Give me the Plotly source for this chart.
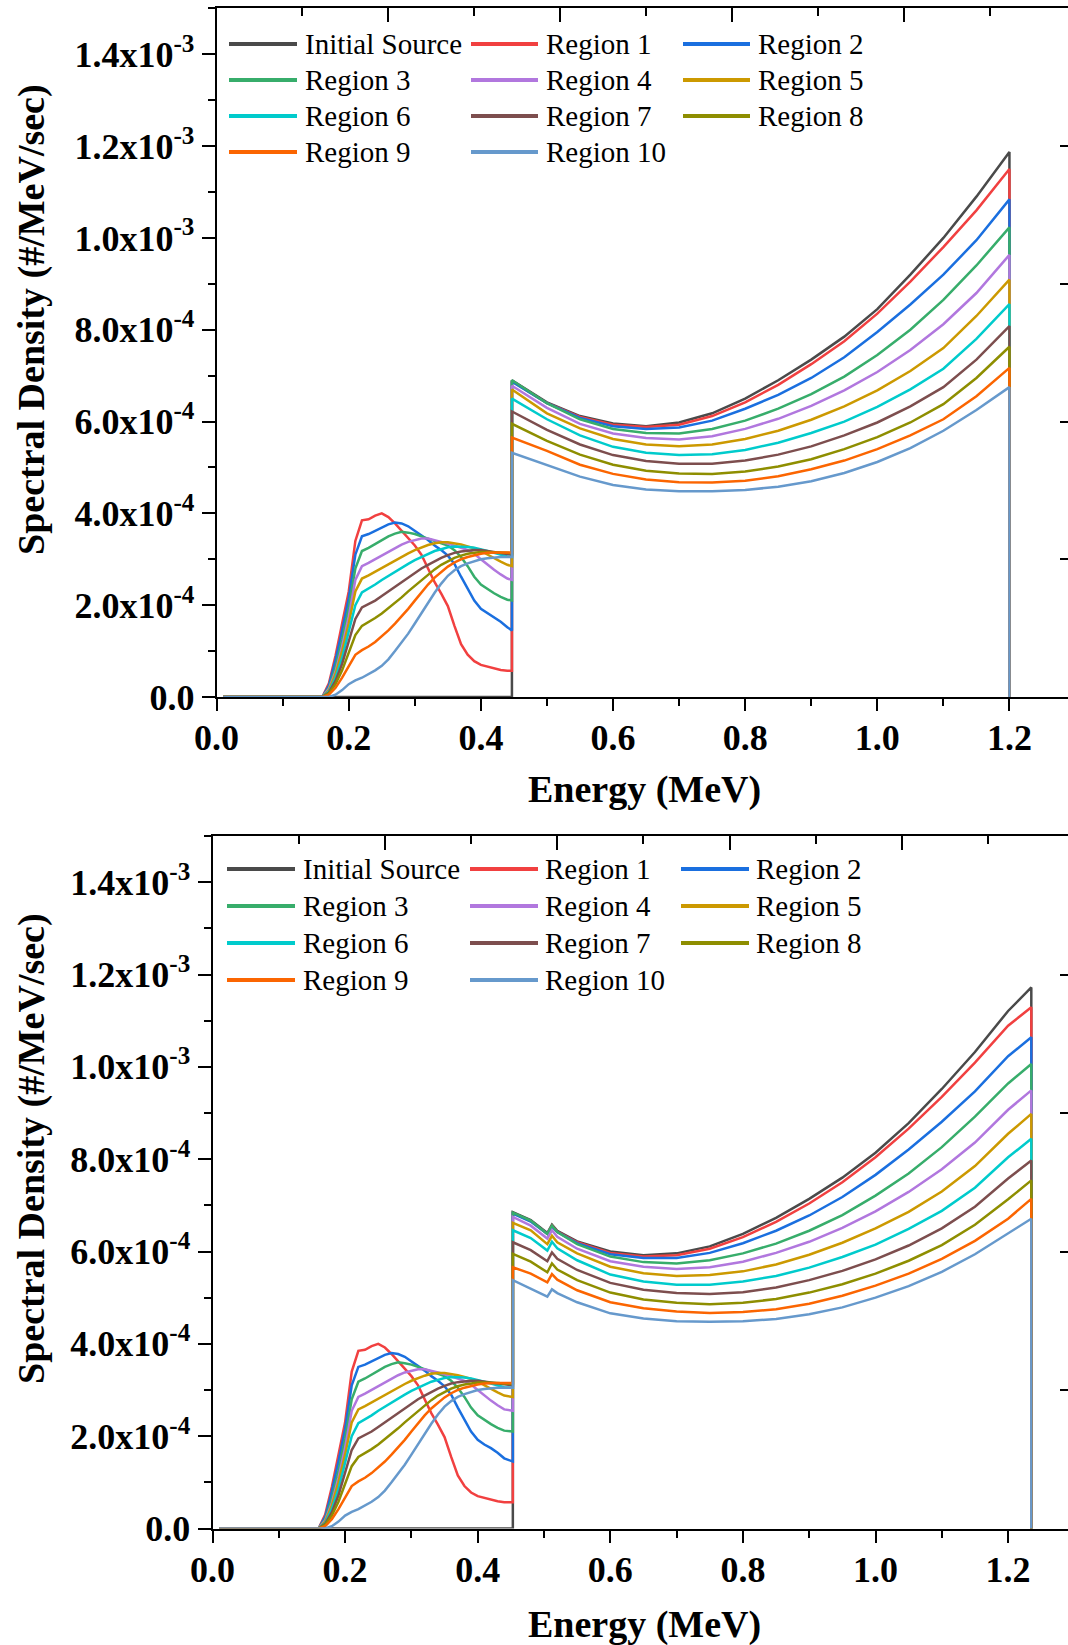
import plotly.graph_objects as go

# Spectral density values are stored in units of 1e-4 #/MeV/sec
SCALE = 1e-4

SERIES = ["Initial Source", "Region 1", "Region 2", "Region 3", "Region 4", "Region 5",
          "Region 6", "Region 7", "Region 8", "Region 9", "Region 10"]
COLORS = ["#4a4a4a", "#F14040", "#1A6FDF", "#37AD6B", "#B177DE", "#CC9900",
          "#00CBCC", "#7D4E4E", "#8E8E00", "#FB6501", "#6699CC"]

# ---- low-energy scattered component (regions only) ----
LOW_E_TOP = [0.16, 0.17, 0.18, 0.19, 0.20, 0.21, 0.22, 0.23, 0.24, 0.25, 0.26, 0.27, 0.28, 0.29,
             0.30, 0.31, 0.32, 0.33, 0.34, 0.35, 0.36, 0.37, 0.38, 0.39, 0.40, 0.41, 0.42, 0.43,
             0.44, 0.447]
LOW_E_BOTTOM = [0.16, 0.17, 0.18, 0.19, 0.20, 0.21, 0.22, 0.23, 0.24, 0.25, 0.26, 0.27, 0.28, 0.29,
                0.30, 0.31, 0.32, 0.33, 0.34, 0.35, 0.36, 0.37, 0.38, 0.39, 0.40, 0.41, 0.42, 0.43,
                0.44, 0.453]

R1_LOW = [0, 0.3, 0.9, 1.6, 2.3, 3.4, 3.85, 3.87, 3.95, 4.0, 3.92, 3.78, 3.62, 3.47, 3.3, 3.1,
          2.8, 2.5, 2.25, 1.98, 1.55, 1.15, 0.92, 0.78, 0.70, 0.66, 0.62, 0.59, 0.57, 0.57]
R2_LOW = [0, 0.25, 0.8, 1.45, 2.15, 3.1, 3.5, 3.55, 3.62, 3.7, 3.76, 3.8, 3.78, 3.72, 3.62, 3.52,
          3.42, 3.3, 3.2, 3.08, 2.9, 2.62, 2.35, 2.1, 1.92, 1.82, 1.74, 1.64, 1.52, 1.45]
R3_LOW = [0, 0.2, 0.65, 1.25, 1.95, 2.8, 3.18, 3.25, 3.33, 3.42, 3.5, 3.56, 3.6, 3.58, 3.55, 3.5,
          3.45, 3.4, 3.35, 3.3, 3.2, 3.05, 2.85, 2.62, 2.45, 2.35, 2.26, 2.18, 2.12, 2.1]
R4_LOW = [0, 0.18, 0.55, 1.1, 1.75, 2.55, 2.85, 2.92, 3.0, 3.08, 3.16, 3.24, 3.32, 3.38, 3.42, 3.45,
          3.45, 3.42, 3.38, 3.34, 3.3, 3.25, 3.2, 3.12, 3.0, 2.88, 2.77, 2.67, 2.58, 2.55]
R5_LOW = [0, 0.15, 0.5, 1.0, 1.6, 2.3, 2.58, 2.65, 2.73, 2.82, 2.9, 2.98, 3.06, 3.13, 3.2, 3.26,
          3.31, 3.35, 3.37, 3.37, 3.35, 3.32, 3.28, 3.24, 3.18, 3.1, 3.02, 2.95, 2.88, 2.85]
R6_LOW = [0, 0.12, 0.42, 0.85, 1.4, 2.0, 2.28, 2.36, 2.45, 2.55, 2.64, 2.73, 2.82, 2.9, 2.98, 3.05,
          3.12, 3.18, 3.22, 3.26, 3.28, 3.28, 3.27, 3.25, 3.22, 3.18, 3.14, 3.1, 3.06, 3.05]
R7_LOW = [0, 0.1, 0.35, 0.72, 1.2, 1.7, 1.95, 2.02, 2.1, 2.2, 2.3, 2.4, 2.5, 2.6, 2.7, 2.8,
          2.88, 2.96, 3.03, 3.09, 3.14, 3.17, 3.19, 3.2, 3.2, 3.18, 3.16, 3.14, 3.12, 3.1]
R8_LOW = [0, 0.08, 0.28, 0.58, 0.95, 1.35, 1.55, 1.63, 1.72, 1.82, 1.93, 2.05, 2.17, 2.3, 2.42, 2.55,
          2.67, 2.78, 2.88, 2.96, 3.03, 3.08, 3.12, 3.14, 3.16, 3.16, 3.16, 3.15, 3.14, 3.13]
R9_LOW = [0, 0.05, 0.2, 0.42, 0.68, 0.92, 1.02, 1.1, 1.2, 1.32, 1.45, 1.6, 1.75, 1.92, 2.1, 2.28,
          2.45, 2.6, 2.73, 2.84, 2.93, 3.0, 3.05, 3.09, 3.12, 3.14, 3.15, 3.15, 3.15, 3.15]
R10_LOW = [0, 0, 0.05, 0.15, 0.28, 0.36, 0.42, 0.5, 0.58, 0.68, 0.82, 1.0, 1.18, 1.38, 1.6, 1.83,
           2.05, 2.27, 2.47, 2.64, 2.76, 2.85, 2.91, 2.96, 3.0, 3.02, 3.04, 3.05, 3.05, 3.05]

# ---- primary component, upper panel ----
MAIN_E_TOP = [0.447, 0.50, 0.55, 0.60, 0.65, 0.70, 0.75, 0.80, 0.85, 0.90, 0.95, 1.00, 1.05,
              1.10, 1.15, 1.20]
INIT_TOP = [6.90, 6.42, 6.12, 5.96, 5.90, 5.98, 6.18, 6.50, 6.90, 7.35, 7.85, 8.45, 9.20, 10.00, 10.90, 11.87]
R1_TOP = [6.88, 6.40, 6.10, 5.93, 5.88, 5.93, 6.12, 6.42, 6.80, 7.25, 7.75, 8.35, 9.05, 9.80, 10.60, 11.50]
R2_TOP = [6.87, 6.40, 6.08, 5.90, 5.84, 5.87, 6.02, 6.28, 6.58, 6.95, 7.40, 7.95, 8.55, 9.20, 9.95, 10.84]
R3_TOP = [6.90, 6.40, 6.05, 5.84, 5.75, 5.74, 5.84, 6.02, 6.28, 6.60, 6.98, 7.45, 8.00, 8.65, 9.40, 10.23]
R4_TOP = [6.78, 6.30, 5.95, 5.74, 5.64, 5.61, 5.68, 5.84, 6.06, 6.34, 6.68, 7.08, 7.56, 8.12, 8.80, 9.63]
R5_TOP = [6.70, 6.18, 5.85, 5.62, 5.50, 5.46, 5.50, 5.62, 5.80, 6.04, 6.33, 6.68, 7.10, 7.60, 8.30, 9.09]
R6_TOP = [6.50, 6.05, 5.70, 5.45, 5.32, 5.27, 5.29, 5.38, 5.54, 5.75, 6.00, 6.32, 6.70, 7.15, 7.80, 8.56]
R7_TOP = [6.22, 5.82, 5.50, 5.27, 5.14, 5.08, 5.08, 5.15, 5.28, 5.46, 5.70, 5.98, 6.33, 6.75, 7.35, 8.08]
R8_TOP = [5.95, 5.58, 5.28, 5.06, 4.93, 4.87, 4.86, 4.91, 5.02, 5.18, 5.40, 5.66, 5.98, 6.38, 6.95, 7.63]
R9_TOP = [5.65, 5.36, 5.06, 4.86, 4.74, 4.68, 4.67, 4.71, 4.81, 4.96, 5.15, 5.40, 5.70, 6.05, 6.55, 7.17]
R10_TOP = [5.32, 5.05, 4.80, 4.62, 4.52, 4.48, 4.48, 4.51, 4.58, 4.70, 4.88, 5.12, 5.42, 5.80, 6.25, 6.75]

# ---- primary component, lower panel (with the 0.511 MeV feature) ----
MAIN_E_BOTTOM = [0.453, 0.48, 0.505, 0.512, 0.52, 0.55, 0.60, 0.65, 0.70, 0.75, 0.80, 0.85, 0.90,
                 0.95, 1.00, 1.05, 1.10, 1.15, 1.20, 1.235]
INIT_BOT = [6.85, 6.68, 6.40, 6.58, 6.45, 6.22, 6.00, 5.92, 5.96, 6.11, 6.38, 6.73, 7.14, 7.60, 8.14, 8.78, 9.52, 10.32, 11.21, 11.72]
R1_BOT = [6.83, 6.66, 6.38, 6.56, 6.43, 6.20, 5.97, 5.89, 5.92, 6.06, 6.31, 6.64, 7.04, 7.50, 8.04, 8.66, 9.35, 10.09, 10.89, 11.29]
R2_BOT = [6.82, 6.65, 6.38, 6.54, 6.42, 6.18, 5.94, 5.86, 5.86, 5.97, 6.18, 6.45, 6.78, 7.18, 7.66, 8.21, 8.81, 9.47, 10.23, 10.64]
R3_BOT = [6.84, 6.67, 6.38, 6.56, 6.42, 6.16, 5.89, 5.77, 5.74, 5.81, 5.96, 6.17, 6.45, 6.79, 7.21, 7.69, 8.26, 8.92, 9.64, 10.06]
R4_BOT = [6.75, 6.56, 6.28, 6.46, 6.32, 6.06, 5.79, 5.67, 5.62, 5.66, 5.78, 5.97, 6.21, 6.51, 6.87, 7.29, 7.78, 8.36, 9.07, 9.49]
R5_BOT = [6.62, 6.46, 6.16, 6.34, 6.20, 5.96, 5.67, 5.53, 5.47, 5.49, 5.57, 5.72, 5.93, 6.19, 6.50, 6.86, 7.30, 7.85, 8.55, 8.98]
R6_BOT = [6.46, 6.29, 6.02, 6.21, 6.07, 5.81, 5.50, 5.35, 5.28, 5.28, 5.35, 5.47, 5.65, 5.88, 6.15, 6.49, 6.88, 7.38, 8.04, 8.44]
R7_BOT = [6.20, 6.03, 5.79, 5.98, 5.84, 5.60, 5.32, 5.17, 5.10, 5.08, 5.12, 5.22, 5.38, 5.58, 5.83, 6.13, 6.50, 6.97, 7.58, 7.97]
R8_BOT = [5.95, 5.78, 5.55, 5.74, 5.61, 5.38, 5.11, 4.96, 4.89, 4.86, 4.89, 4.97, 5.11, 5.29, 5.52, 5.80, 6.14, 6.58, 7.13, 7.54]
R9_BOT = [5.66, 5.52, 5.33, 5.51, 5.39, 5.16, 4.90, 4.77, 4.70, 4.67, 4.69, 4.75, 4.87, 5.04, 5.26, 5.52, 5.84, 6.23, 6.71, 7.14]
R10_BOT = [5.38, 5.20, 5.02, 5.18, 5.10, 4.90, 4.66, 4.55, 4.49, 4.48, 4.49, 4.54, 4.64, 4.79, 5.00, 5.25, 5.56, 5.94, 6.40, 6.71]

Y_TICKS = [0, 2e-4, 4e-4, 6e-4, 8e-4, 1.0e-3, 1.2e-3, 1.4e-3]
Y_TICK_TEXT = ["0.0", "2.0x10<sup>-4</sup>", "4.0x10<sup>-4</sup>", "6.0x10<sup>-4</sup>",
               "8.0x10<sup>-4</sup>", "1.0x10<sup>-3</sup>", "1.2x10<sup>-3</sup>", "1.4x10<sup>-3</sup>"]

LOW_SETS = [R1_LOW, R2_LOW, R3_LOW, R4_LOW, R5_LOW, R6_LOW, R7_LOW, R8_LOW, R9_LOW, R10_LOW]
TOP_SETS = [INIT_TOP, R1_TOP, R2_TOP, R3_TOP, R4_TOP, R5_TOP, R6_TOP, R7_TOP, R8_TOP, R9_TOP, R10_TOP]
BOT_SETS = [INIT_BOT, R1_BOT, R2_BOT, R3_BOT, R4_BOT, R5_BOT, R6_BOT, R7_BOT, R8_BOT, R9_BOT, R10_BOT]

W, H = 1068, 1645
SERIF = "Liberation Serif"
E_START = 0.01

fig = go.Figure()


def add_panel(xa, ya, low_e, main_e, main_sets):
    jump = main_e[0]
    end = main_e[-1]
    for i, name in enumerate(SERIES):
        main = [v * SCALE for v in main_sets[i]]
        if i == 0:
            xs = [E_START, jump] + main_e + [end]
            ys = [0, 0] + main + [0]
        else:
            low = [v * SCALE for v in LOW_SETS[i - 1]]
            xs = [E_START] + low_e + main_e + [end]
            ys = [0] + low + main + [0]
        fig.add_trace(go.Scatter(x=xs, y=ys, mode="lines", name=name, xaxis=xa, yaxis=ya,
                                 line=dict(color=COLORS[i], width=2.5), showlegend=False))


add_panel("x", "y", LOW_E_TOP, MAIN_E_TOP, TOP_SETS)
add_panel("x2", "y2", LOW_E_BOTTOM, MAIN_E_BOTTOM, BOT_SETS)
# empty traces to register the frame axes
for xa, ya in [("x3", "y"), ("x", "y3"), ("x4", "y2"), ("x2", "y4")]:
    fig.add_trace(go.Scatter(x=[None], y=[None], xaxis=xa, yaxis=ya, showlegend=False,
                             hoverinfo="skip"))

tick_font = dict(family=SERIF, size=36, color="black", weight="bold")

# pixel geometry of the two panels (x: 0.1 MeV per 66.07 / 66.3 px)
PANELS = [
    dict(left=216.6, top=8.4, bottom=697.0, xmax=(W - 216.6) / 660.7),
    dict(left=212.5, top=836.0, bottom=1528.5, xmax=(W - 212.5) / 663.0),
]


def x_axis(p, anchor):
    return dict(domain=[p["left"] / W, 1.0], range=[0, p["xmax"]], anchor=anchor,
                tickmode="linear", tick0=0, dtick=0.2, tickformat=".1f",
                ticks="outside", ticklen=12, tickwidth=2, tickcolor="black",
                ticklabelstandoff=-4,
                minor=dict(ticks="outside", ticklen=7, tickwidth=2, tickcolor="black",
                           tickmode="linear", tick0=0, dtick=0.1),
                showline=True, linewidth=2, linecolor="black", mirror=False,
                showgrid=False, zeroline=False, tickfont=tick_font, automargin=False)


def y_axis(p, anchor):
    return dict(domain=[1 - p["bottom"] / H, 1 - p["top"] / H], range=[0, 1.5e-3], anchor=anchor,
                tickmode="array", tickvals=Y_TICKS, ticktext=Y_TICK_TEXT,
                ticks="outside", ticklen=13, tickwidth=2, tickcolor="black",
                minor=dict(ticks="outside", ticklen=7, tickwidth=2, tickcolor="black",
                           tickmode="linear", tick0=0, dtick=1e-4),
                showline=True, linewidth=2, linecolor="black",
                showgrid=False, zeroline=False, tickfont=tick_font, automargin=False)


def top_axis(p, over, anchor):
    return dict(overlaying=over, side="top", anchor=anchor, range=[0, p["xmax"] / 1.3],
                tickmode="linear", tick0=0, dtick=0.2, ticks="inside", ticklen=14, tickwidth=2,
                tickcolor="black",
                minor=dict(ticks="inside", ticklen=8, tickwidth=2, tickcolor="black",
                           tickmode="linear", tick0=0, dtick=0.1),
                showticklabels=False, showline=True, linewidth=2, linecolor="black",
                showgrid=False, zeroline=False)


def right_axis(over, anchor):
    return dict(overlaying=over, side="right", anchor=anchor, range=[0, 5],
                tickmode="linear", tick0=0, dtick=1, ticks="inside", ticklen=8, tickwidth=2,
                tickcolor="black", showticklabels=False, showline=False,
                showgrid=False, zeroline=False)


fig.update_layout(
    width=W, height=H, margin=dict(l=0, r=0, t=0, b=0),
    paper_bgcolor="white", plot_bgcolor="white", showlegend=False,
    xaxis=x_axis(PANELS[0], "y"), yaxis=y_axis(PANELS[0], "x"),
    xaxis2=x_axis(PANELS[1], "y2"), yaxis2=y_axis(PANELS[1], "x2"),
    xaxis3=top_axis(PANELS[0], "x", "y"), yaxis3=right_axis("y", "x"),
    xaxis4=top_axis(PANELS[1], "x2", "y2"), yaxis4=right_axis("y2", "x2"),
)

# legend blocks (3 columns x 4 rows) and axis titles
LEGEND_LAYOUT = [
    dict(rows=[44, 80, 116, 152], line_x=[(229, 297), (471, 538), (683, 750)], text_x=[303, 544, 756]),
    dict(rows=[869, 906, 943, 980], line_x=[(227, 295), (470, 538), (681, 749)], text_x=[301, 543, 754]),
]
TITLE_POS = [dict(x_title=(644, 789), y_title=(31, 320)),
             dict(x_title=(644, 1624), y_title=(31, 1149))]

title_font = dict(family=SERIF, size=38, color="black", weight="bold")
legend_font = dict(family=SERIF, size=29, color="black")

for lg, tp in zip(LEGEND_LAYOUT, TITLE_POS):
    for i, name in enumerate(SERIES):
        r, c = divmod(i, 3)
        yp = 1 - lg["rows"][r] / H
        x0, x1 = lg["line_x"][c]
        fig.add_shape(type="line", xref="paper", yref="paper", x0=x0 / W, x1=x1 / W, y0=yp, y1=yp,
                      line=dict(color=COLORS[i], width=4))
        fig.add_annotation(xref="paper", yref="paper", x=lg["text_x"][c] / W, y=yp, text=name,
                           showarrow=False, xanchor="left", yanchor="middle", font=legend_font)
    fig.add_annotation(xref="paper", yref="paper", x=tp["x_title"][0] / W, y=1 - tp["x_title"][1] / H,
                       text="Energy (MeV)", showarrow=False, xanchor="center", yanchor="middle",
                       font=title_font)
    fig.add_annotation(xref="paper", yref="paper", x=tp["y_title"][0] / W, y=1 - tp["y_title"][1] / H,
                       text="Spectral Density (#/MeV/sec)", showarrow=False, textangle=-90,
                       xanchor="center", yanchor="middle", font=title_font)

fig.write_html("out.html")
